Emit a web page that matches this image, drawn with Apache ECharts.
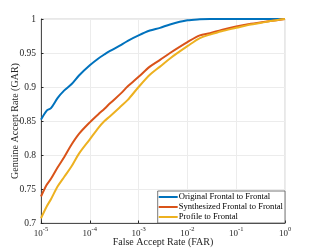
<!DOCTYPE html>
<html>
<head>
<meta charset="utf-8">
<script src="https://cdn.jsdelivr.net/npm/echarts@6/dist/echarts.min.js"></script>
<style>html,body{margin:0;padding:0;background:#fff;}#c{width:315px;height:251px;}</style>
</head>
<body>
<div id="c"></div>
<script>
var far = [1e-5, 1.3e-5, 1.6e-5, 2.2e-5, 3e-5, 4.2e-5, 6e-5, 1e-4, 1.5e-4, 2e-4, 2.6e-4, 4.4e-4, 6e-4, 1e-3, 1.7e-3, 2.75e-3, 4.4e-3, 1e-2, 1.8e-2, 2.9e-2, 5e-2, 1e-1, 0.2, 0.31, 0.5, 1];
var originalGar = [0.852, 0.865, 0.869, 0.884, 0.895, 0.904, 0.917, 0.932, 0.942, 0.948, 0.953, 0.962, 0.968, 0.976, 0.983, 0.987, 0.992, 0.998, 0.9995, 1, 1, 1, 1, 1, 1, 1];
var synthesizedGar = [0.739, 0.756, 0.765, 0.782, 0.797, 0.815, 0.831, 0.848, 0.86, 0.868, 0.876, 0.891, 0.901, 0.915, 0.930, 0.940, 0.950, 0.966, 0.976, 0.979, 0.984, 0.989, 0.993, 0.995, 0.997, 1];
var profileGar = [0.707, 0.724, 0.735, 0.754, 0.768, 0.783, 0.802, 0.823, 0.84, 0.85, 0.857, 0.872, 0.881, 0.900, 0.918, 0.930, 0.942, 0.960, 0.972, 0.977, 0.982, 0.987, 0.992, 0.994, 0.997, 1];
var seriesNames = ['Original Frontal to Frontal', 'Synthesized Frontal to Frontal', 'Profile to Frontal'];
var colors = ['#0072BD', '#D95319', '#EDB120'];
var xTitle = 'False Accept Rate (FAR)';
var yTitle = 'Genuine Accept Rate (GAR)';

function pairs(ys) { return far.map(function (x, i) { return [x, ys[i]]; }); }
var allY = [originalGar, synthesizedGar, profileGar];
var font = 'Liberation Serif';
var chart = echarts.init(document.getElementById('c'));
chart.setOption({
  animation: false,
  grid: { left: 41, right: 30, top: 19, bottom: 28, show: true, borderColor: '#d0d0d0', borderWidth: 1, containLabel: false, outerBoundsMode: 'none' },
  xAxis: {
    type: 'log', logBase: 10, min: 1e-5, max: 1,
    name: xTitle, nameLocation: 'middle', nameGap: 14, nameMoveOverlap: false,
    nameTextStyle: { fontFamily: font, fontSize: 10, color: '#262626' },
    axisLine: { lineStyle: { color: '#262626', width: 0.8 } },
    axisTick: { inside: true, length: 2.5, lineStyle: { color: '#262626' } },
    minorTick: { show: false },
    splitLine: { show: true, lineStyle: { color: '#ececec', width: 1 } },
    axisLabel: {
      margin: 3,
      formatter: function (v) { var e = Math.round(Math.log10(v)); return '{b|10}{e|' + e + '}'; },
      rich: {
        b: { fontFamily: font, fontSize: 9, color: '#262626', verticalAlign: 'bottom', lineHeight: 12 },
        e: { fontFamily: font, fontSize: 6.5, color: '#262626', verticalAlign: 'top', lineHeight: 8 }
      }
    }
  },
  yAxis: {
    type: 'value', min: 0.7, max: 1, interval: 0.05,
    name: yTitle, nameLocation: 'middle', nameGap: 21, nameRotate: 90, nameMoveOverlap: false,
    nameTextStyle: { fontFamily: font, fontSize: 10, color: '#262626' },
    axisLine: { show: true, lineStyle: { color: '#262626', width: 0.8 } },
    axisTick: { show: true, inside: true, length: 2.5, lineStyle: { color: '#262626' } },
    splitLine: { show: true, lineStyle: { color: '#ececec', width: 1 } },
    axisLabel: {
      margin: 5, fontFamily: font, fontSize: 9.5, color: '#262626',
      formatter: function (v) { return String(parseFloat(v.toFixed(2))); }
    }
  },
  legend: {
    orient: 'vertical', right: 30, bottom: 28,
    backgroundColor: '#fff', borderColor: '#555', borderWidth: 0.8,
    padding: [1, 2, 1, 1], itemGap: 0, itemWidth: 19, itemHeight: 2,
    icon: 'rect',
    textStyle: { fontFamily: font, fontSize: 8.6, color: '#000', padding: [0, 0, 0, -4], lineHeight: 10 },
    data: seriesNames
  },
  series: seriesNames.map(function (n, i) {
    return {
      name: n, type: 'line', data: pairs(allY[i]), symbol: 'none', smooth: 0.3,
      lineStyle: { color: colors[i], width: 2 }, itemStyle: { color: colors[i] }
    };
  })
});
</script>
</body>
</html>
